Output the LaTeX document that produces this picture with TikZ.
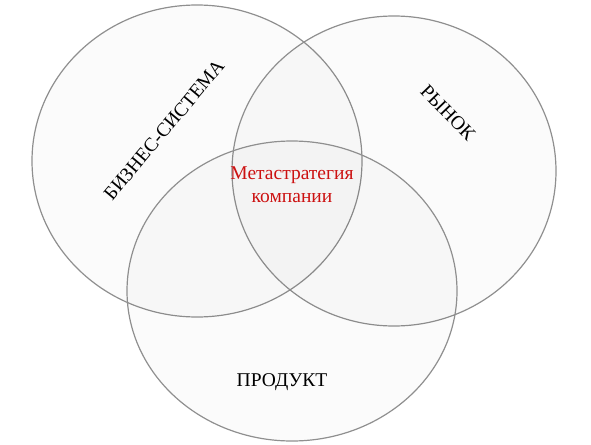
\documentclass[tikz,border=0pt]{standalone}
\usepackage{fontspec}
\setmainfont{Liberation Serif}
\definecolor{krasny}{HTML}{CC1111}
\begin{document}
\begin{tikzpicture}[x=1pt,y=-1pt]
    \tikzset{
        krug/.style={draw=black!44, line width=1.2pt, fill=black, fill opacity=0.016},
        nadpis/.style={font=\fontsize{19.5}{23}\selectfont, inner sep=0pt}}
    \useasboundingbox (0,0) rectangle (591,444);
    \draw [krug] (197,161) ellipse [x radius=165pt, y radius=156pt];
    \draw [krug] (394,171) ellipse [x radius=162pt, y radius=155pt];
    \draw [krug] (292,291) ellipse [x radius=165pt, y radius=150pt];
    \node [nadpis, rotate=50] (biznes) at (164,130) {БИЗНЕС-СИСТЕМА};
    \node [nadpis, rotate=-46] (rynok) at (448,113) {РЫНОК};
    \node [nadpis] (produkt) at (282,382) {ПРОДУКТ};
    \node [nadpis, text=krasny, align=center] (meta) at (292,185) {Метастратегия\\компании};
\end{tikzpicture}
\end{document}
